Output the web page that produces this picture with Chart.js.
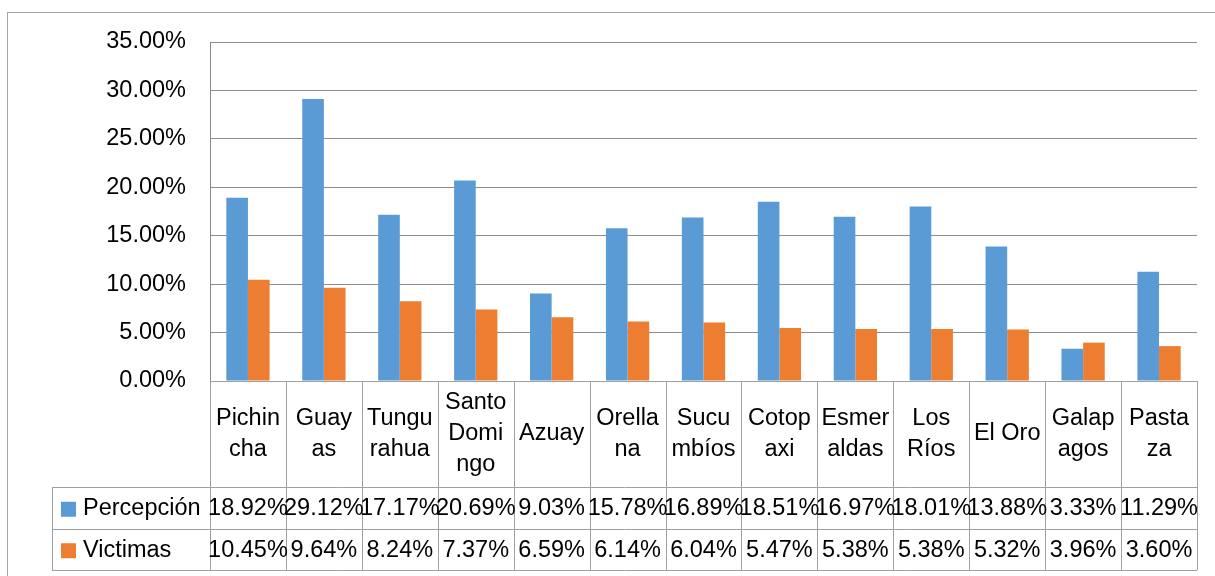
<!DOCTYPE html>
<html>
<head>
<meta charset="utf-8">
<script src="https://cdn.jsdelivr.net/npm/chart.js@4.4.0/dist/chart.umd.min.js"></script>
<style>
  html, body { margin: 0; padding: 0; background: #fff; }
  #wrap { width: 1215px; height: 576px; position: relative; }
</style>
</head>
<body>
<div id="wrap"><canvas id="barChart" width="1215" height="576"></canvas></div>
<script>
// provincias (con los cortes de linea como en la tabla de Excel)
const categories = [
  ['Pichin', 'cha'], ['Guay', 'as'], ['Tungu', 'rahua'], ['Santo', 'Domi', 'ngo'],
  ['Azuay'], ['Orella', 'na'], ['Sucu', 'mbíos'], ['Cotop', 'axi'], ['Esmer', 'aldas'],
  ['Los', 'Ríos'], ['El Oro'], ['Galap', 'agos'], ['Pasta', 'za']
];
const percepcion = [0.1892, 0.2912, 0.1717, 0.2069, 0.0903, 0.1578, 0.1689, 0.1851, 0.1697, 0.1801, 0.1388, 0.0333, 0.1129];
const victimas = [0.1045, 0.0964, 0.0824, 0.0737, 0.0659, 0.0614, 0.0604, 0.0547, 0.0538, 0.0538, 0.0532, 0.0396, 0.0360];
const yTicks = [0, 0.05, 0.10, 0.15, 0.20, 0.25, 0.30, 0.35];

const FONT = '"Liberation Sans", Arial, sans-serif';
const FSIZE = 23.5;
const pct = v => (v * 100).toFixed(2) + '%';

const series = [
  { label: 'Percepción', data: percepcion, color: '#5B9BD5' },
  { label: 'Victimas', data: victimas, color: '#ED7D31' }
];

// dibuja el marco y la tabla de datos debajo del grafico
const tablePlugin = {
  id: 'dataTable',
  beforeDraw(chart) {
    const ctx = chart.ctx;
    ctx.save();
    ctx.strokeStyle = '#a6a6a6';
    ctx.lineWidth = 1;
    ctx.strokeRect(7.5, 12.5, 1220, 600);
    ctx.restore();
  },
  afterDraw(chart) {
    const ctx = chart.ctx;
    const x = chart.scales.x;
    const area = chart.chartArea;
    const top = area.bottom;
    const labelBottom = 487;
    const rowH = 41.5;
    const tableBottom = labelBottom + rowH * 2;
    const legendLeft = 52;
    const n = categories.length;
    const w = (area.right - area.left) / n;

    ctx.save();
    ctx.strokeStyle = '#a0a0a0';
    ctx.lineWidth = 1;
    ctx.beginPath();
    // lineas horizontales
    ctx.moveTo(area.left, Math.round(top) + 0.5);
    ctx.lineTo(area.right, Math.round(top) + 0.5);
    for (let r = 0; r <= 2; r++) {
      const y = Math.round(labelBottom + r * rowH) + 0.5;
      ctx.moveTo(legendLeft, y);
      ctx.lineTo(area.right, y);
    }
    // lineas verticales
    for (let i = 0; i <= n; i++) {
      const xx = Math.round(area.left + i * w) + 0.5;
      ctx.moveTo(xx, top);
      ctx.lineTo(xx, tableBottom);
    }
    ctx.moveTo(legendLeft + 0.5, labelBottom);
    ctx.lineTo(legendLeft + 0.5, tableBottom);
    ctx.stroke();

    ctx.fillStyle = '#000';
    ctx.font = FSIZE + 'px ' + FONT;
    ctx.textAlign = 'center';
    ctx.textBaseline = 'middle';
    const lineH = 31;
    categories.forEach((lines, i) => {
      const cx = x.getPixelForValue(i);
      const cy = (top + labelBottom) / 2;
      lines.forEach((t, k) => {
        ctx.fillText(t, cx, cy + (k - (lines.length - 1) / 2) * lineH);
      });
    });

    series.forEach((s, r) => {
      const cy = labelBottom + rowH * r + rowH / 2 + 1;
      ctx.fillStyle = s.color;
      ctx.fillRect(61, cy - 7, 15, 15);
      ctx.fillStyle = '#000';
      ctx.textAlign = 'left';
      ctx.fillText(s.label, 83, cy);
      ctx.textAlign = 'center';
      s.data.forEach((v, i) => {
        ctx.fillText(pct(v), x.getPixelForValue(i), cy);
      });
    });
    ctx.restore();
  }
};

new Chart(document.getElementById('barChart'), {
  type: 'bar',
  data: {
    labels: categories.map(l => l.join('')),
    datasets: series.map(s => ({
      label: s.label,
      data: s.data,
      backgroundColor: s.color,
      borderWidth: 0,
      categoryPercentage: 0.57,
      barPercentage: 1
    }))
  },
  options: {
    responsive: false,
    animation: false,
    events: [],
    layout: { padding: { top: 42, right: 18, bottom: 195, left: 0 } },
    plugins: { legend: { display: false }, tooltip: { enabled: false } },
    scales: {
      x: { display: false },
      y: {
        min: 0,
        max: 0.35,
        afterFit(scale) { scale.width = 210; },
        afterBuildTicks(scale) { scale.ticks = yTicks.map(v => ({ value: v })); },
        ticks: {
          padding: 24,
          color: '#000',
          font: { family: FONT, size: FSIZE },
          callback: v => pct(v)
        },
        grid: { color: '#8c8c8c', drawTicks: false },
        border: { display: true, color: '#8c8c8c' }
      }
    }
  },
  plugins: [tablePlugin]
});
</script>
</body>
</html>
